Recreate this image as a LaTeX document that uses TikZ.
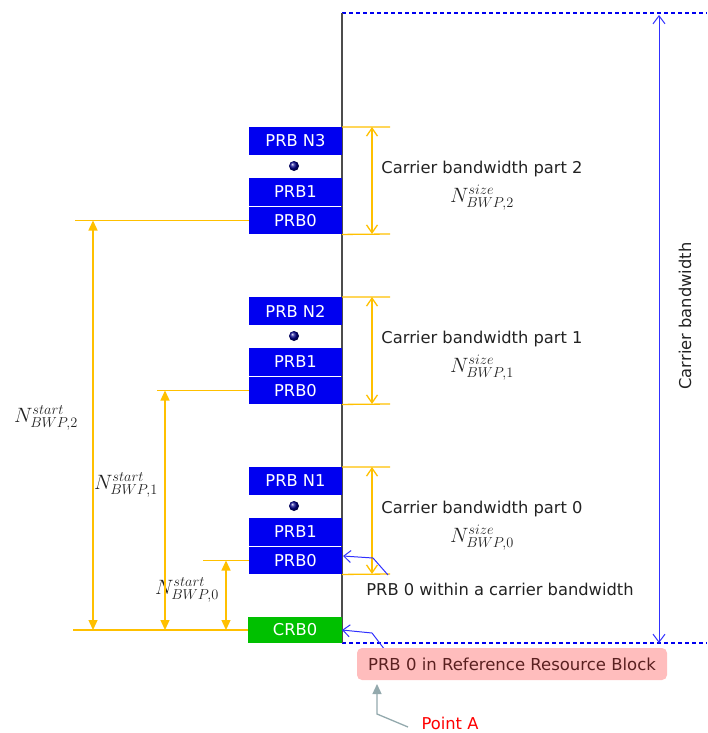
\documentclass[tikz,border=0pt]{standalone}
\usepackage[no-math]{fontspec}
\setmainfont{DejaVu Sans}
\usetikzlibrary{arrows.meta}
\definecolor{ylw}{HTML}{FFC000}
\definecolor{prbblue}{HTML}{0000F0}
\definecolor{crbgreen}{HTML}{00C000}
\definecolor{cbblue}{HTML}{3030FF}
\definecolor{txtgray}{HTML}{222222}
\definecolor{pinkfill}{HTML}{FFBDBD}
\definecolor{pinktxt}{HTML}{5A2020}
\definecolor{arrgray}{HTML}{93A9AD}
\begin{document}
\begin{tikzpicture}[x=1pt,y=-1pt,
  lbl/.style={font=\fontsize{16.3}{19}\selectfont, text=txtgray, inner sep=0},
  mth/.style={font=\fontsize{21}{25}\selectfont, text=txtgray, inner sep=0},
  prb/.style={fill=prbblue, text=white, minimum width=93pt, minimum height=27.5pt, inner sep=0, font=\fontsize{16.3}{19}\selectfont},
  yl/.style={ylw, line width=1.3pt},
  sizearr/.style={yl, {Straight Barb[length=8pt,width=11pt]}-{Straight Barb[length=8pt,width=11pt]}},
  startarr/.style={yl, {Triangle[length=10pt,width=9pt]}-{Triangle[length=10pt,width=9pt]}},
  callout/.style={cbblue, line width=1pt, -{Straight Barb[length=7pt,width=12pt]}},
]
\useasboundingbox (0,0) rectangle (707,733);

% carrier boundary lines
\coordinate (ltop) at (342,13);
\coordinate (lbot) at (342,643);
\coordinate (rtop) at (707,13);
\coordinate (rbot) at (707,643);
\draw[prbblue, line width=1.2pt, dash pattern=on 4pt off 3pt] (ltop) -- (rtop);
\draw[prbblue, line width=1.2pt, dash pattern=on 4pt off 3pt] (lbot) -- (rbot);
\draw[black!70, line width=1.2pt] (ltop) -- (lbot);

% carrier bandwidth arrow
\coordinate (cbt) at (659,15);
\coordinate (cbb) at (659,643);
\draw[cbblue, line width=1pt, {Straight Barb[length=8pt,width=12pt]}-{Straight Barb[length=8pt,width=12pt]}] (cbt) -- (cbb);
\node[lbl, rotate=90] (cbl) at (685,316) {Carrier bandwidth};

% CRB0
\node[prb, fill=crbgreen, minimum width=94pt, minimum height=26pt] (crb) at (295,630) {CRB0};

\foreach \k/\n/\xl/\ax/\lx/\ly in {0/N1/203/226/187/590, 1/N2/157/165/126/485, 2/N3/75/93/46/418} {
  \pgfmathsetmacro\oy{(2-\k)*170}
  \node[prb] (top\k) at (295.5,{141+\oy}) {PRB \n};
  \shade[ball color=blue!55!black] (294,{166+\oy}) circle (5pt);
  \node[prb] (p1\k) at (295.5,{192+\oy}) {PRB1};
  \node[prb] (p0\k) at (295.5,{220.5+\oy}) {PRB0};
  % size bracket
  \coordinate (st\k) at (390,{127+\oy});
  \coordinate (sb\k) at (390,{234+\oy});
  \coordinate (at\k) at (372,{127+\oy});
  \coordinate (ab\k) at (372,{234+\oy});
  \draw[yl] (top\k.north east) -- (st\k);
  \draw[yl] (p0\k.south east) -- (sb\k);
  \draw[sizearr] (at\k) -- (ab\k);
  \node[lbl] (cbp\k) at (482,{169+\oy}) {Carrier bandwidth part \k};
  \node[mth] (ns\k) at (482,{198+\oy}) {$N^{size}_{BWP,\k}$};
  % start lines
  \coordinate (ls\k) at (\xl,{220.5+\oy});
  \coordinate (as\k) at (\ax,{220.5+\oy});
  \coordinate (ae\k) at (\ax,630);
  \draw[yl] (p0\k.west) -- (ls\k);
  \draw[startarr] (as\k) -- (ae\k);
  \node[mth] (nst\k) at (\lx,\ly) {$N^{start}_{BWP,\k}$};
}
\coordinate (lb) at (73,630);
\draw[yl] (crb.west) -- (lb);

% PRB 0 within a carrier bandwidth callout
\node[lbl] (wtxt) at (500,589) {PRB 0 within a carrier bandwidth};
\coordinate (w1) at (388,575);
\coordinate (w2) at (373,558);
\coordinate (w3) at (343,556);
\draw[callout] (w1) -- (w2) -- (w3);

% Reference resource block callout
\coordinate (r1) at (385,650);
\coordinate (r2) at (372,633);
\coordinate (r3) at (342,630);
\draw[callout] (r1) -- (r2) -- (r3);
\node[fill=pinkfill, rounded corners=5pt, minimum width=310pt, minimum height=32pt, inner sep=0,
      font=\fontsize{16.5}{19}\selectfont, text=pinktxt] (rb) at (512,664) {PRB 0 in Reference Resource Block};

% Point A
\node[lbl, text=red] (pa) at (450,723) {Point A};
\coordinate (pa1) at (408,727);
\coordinate (pa2) at (377,714);
\coordinate (pa3) at (377,684);
\draw[arrgray, line width=1.3pt, -{Triangle[length=10pt,width=9pt]}] (pa1) -- (pa2) -- (pa3);
\end{tikzpicture}
\end{document}
